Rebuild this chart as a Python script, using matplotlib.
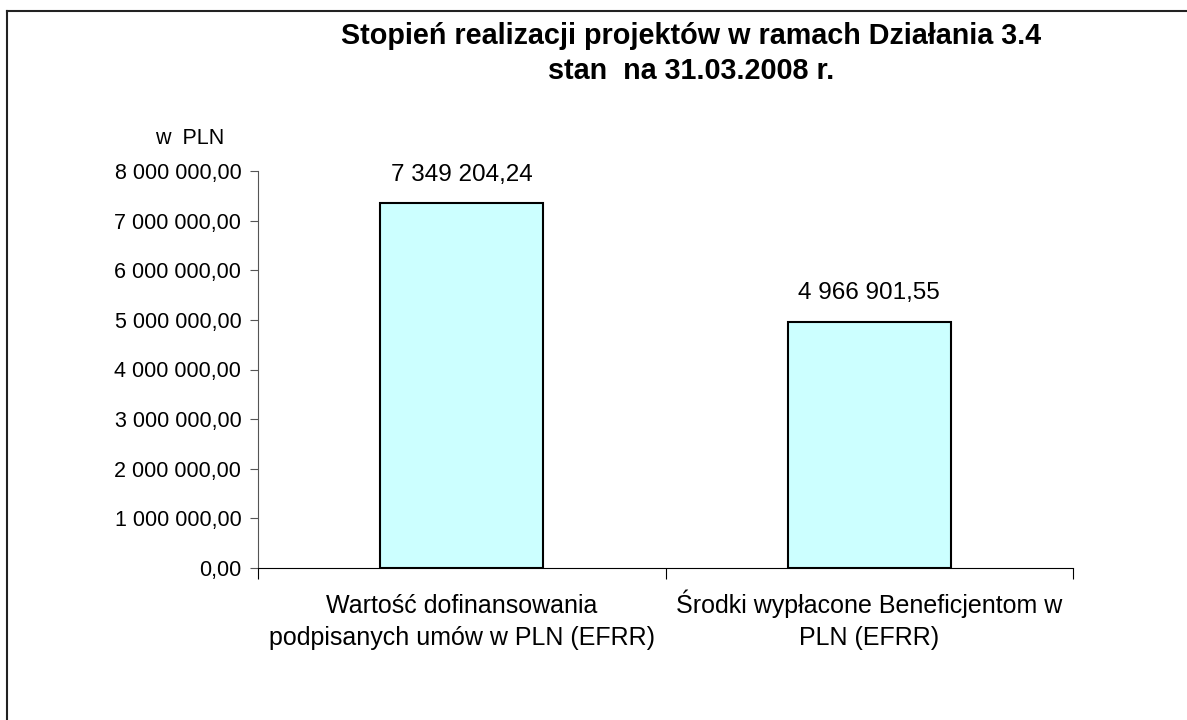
import numpy as np
import matplotlib.pyplot as plt
from matplotlib.ticker import FuncFormatter

plt.rcParams['font.family'] = ['Liberation Sans', 'DejaVu Sans']

categories = ["Wartość dofinansowania\npodpisanych umów w PLN (EFRR)",
              "Środki wypłacone Beneficjentom w\nPLN (EFRR)"]
values = [7349204.24, 4966901.55]
value_labels = ["7 349 204,24", "4 966 901,55"]
y_ticks = [0, 1000000, 2000000, 3000000, 4000000, 5000000, 6000000, 7000000, 8000000]
title_lines = ["Stopień realizacji projektów w ramach Działania 3.4", "stan  na 31.03.2008 r."]

W, H = 1187, 720


def pl_format(v, pos=None):  # 1 000 000,00 style
    s = "{:,.2f}".format(v)
    return s.replace(",", " ").replace(".", ",")


fig = plt.figure(figsize=(W / 100, H / 100), dpi=100)
ax = fig.add_axes([258 / W, 1 - 568 / H, (1073 - 258) / W, (568 - 171) / H])

x = np.arange(len(values))
ax.bar(x, values, width=0.4, color="#CCFFFF", edgecolor="black", linewidth=1.5, zorder=3)

for xi, v, lab in zip(x, values, value_labels):
    ax.annotate(lab, (xi, v), xytext=(0, 16), textcoords="offset points",
                ha="center", va="baseline", fontsize=17.5)

ax.set_xlim(-0.5, 1.5)
ax.set_ylim(0, 8000000)
ax.set_yticks(y_ticks)
ax.yaxis.set_major_formatter(FuncFormatter(pl_format))
ax.tick_params(axis="y", direction="out", length=6, labelsize=15.5, pad=6, color="#555555")

ax.set_xticks([-0.5, 0.5, 1.5])
ax.set_xticklabels([])
ax.tick_params(axis="x", direction="out", length=8, color="black")

# category labels, line by line under each bar (baselines 32 px apart)
for xi, cat in zip(x, categories):
    for k, line in enumerate(cat.split("\n")):
        ax.annotate(line, (xi, 0), xytext=(0, -(45 + 32 * k) * 0.72), textcoords="offset points",
                    ha="center", va="baseline", fontsize=18, annotation_clip=False)

ax.spines["top"].set_visible(False)
ax.spines["right"].set_visible(False)
ax.spines["left"].set_color("#555555")
ax.spines["bottom"].set_color("black")

fig.text(190 / W, 1 - 139 / H, "w  PLN", ha="center", va="center", fontsize=15.5)
for k, line in enumerate(title_lines):
    fig.text(691 / W, 1 - (44 + 35 * k) / H, line, ha="center", va="baseline",
             fontsize=20.7, fontweight="bold")

# outer frame (right and bottom edges fall outside the picture)
fig.add_artist(plt.Line2D([7 / W, 7 / W], [0, 1 - 11 / H], color="#222222", linewidth=1.5,
                          transform=fig.transFigure))
fig.add_artist(plt.Line2D([7 / W, 1], [1 - 11 / H, 1 - 11 / H], color="#222222", linewidth=1.5,
                          transform=fig.transFigure))

fig.savefig("out.png", dpi=100)
